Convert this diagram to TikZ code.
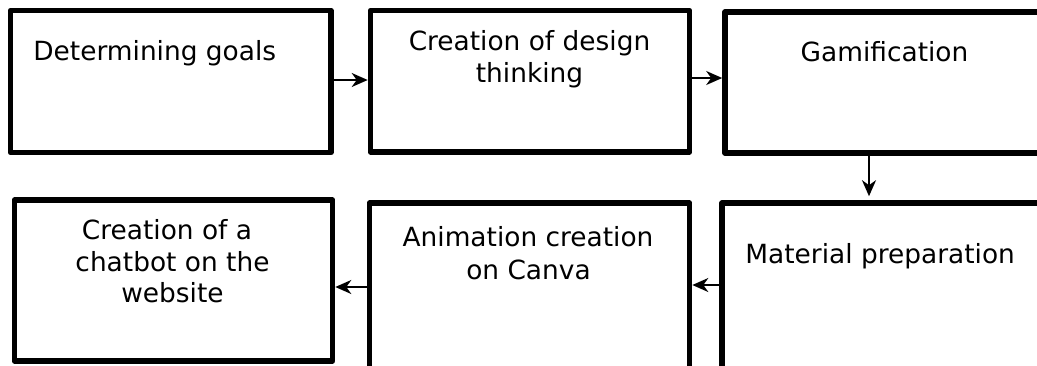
\documentclass[tikz,border=0pt]{standalone}
\usepackage{fontspec}
\setmainfont{DejaVu Sans}
\usetikzlibrary{arrows.meta}
\begin{document}
\begin{tikzpicture}[x=0.5pt,y=-0.5pt,
  box/.style={draw=black, line width=2.8pt, line join=round, fill=white, inner sep=0pt},
  lbl/.style={font=\fontsize{13.2}{16}\selectfont, inner sep=0pt, anchor=base},
  arr/.style={line width=1pt, -{Stealth[length=8pt,width=7pt,inset=2.5pt]}}]
\useasboundingbox (0,0) rectangle (1037,365);
\clip (0,0) rectangle (1037,365);
% boxes
\node[box, minimum width=160.25pt, minimum height=71pt]   (b1) at (170.75,81.5) {};
\node[box, minimum width=159.5pt,  minimum height=70.75pt] (b2) at (530,81.25) {};
\node[box, minimum width=187.5pt,  minimum height=70.5pt]  (b3) at (912.5,82.5) {};
\node[box, minimum width=159pt,    minimum height=80.5pt]  (b4) at (173.5,280.5) {};
\node[box, minimum width=160pt,    minimum height=108.5pt] (b5) at (529.5,311.5) {};
\node[box, minimum width=189pt,    minimum height=108.5pt] (b6) at (911,311.5) {};
% texts
\node[lbl, anchor=base west] (t1) at (33,60) {Determining goals};
\node[lbl] (t2a) at (529.5,50) {Creation of design};
\node[lbl] (t2b) at (529.5,82) {thinking};
\node[lbl] (t3) at (884.5,61) {Gamification};
\node[lbl] (t4a) at (167,239) {Creation of a};
\node[lbl] (t4b) at (172.5,271) {chatbot on the};
\node[lbl] (t4c) at (172.5,302) {website};
\node[lbl] (t5a) at (528,246) {Animation creation};
\node[lbl] (t5b) at (528.5,279) {on Canva};
\node[lbl, anchor=base west] (t6) at (745,263) {Material preparation};
% connectors
\draw[arr] (b1.east |- 0,80) -- (b2.west |- 0,80);
\draw[arr] (b2.east |- 0,78) -- (b3.west |- 0,78);
\draw[arr, shorten >=2pt] (b3.south -| 869,0) -- (b6.north -| 869,0);
\draw[arr] (b6.west |- 0,285) -- (b5.east |- 0,285);
\draw[arr] (b5.west |- 0,287) -- (b4.east |- 0,287);
\end{tikzpicture}
\end{document}
